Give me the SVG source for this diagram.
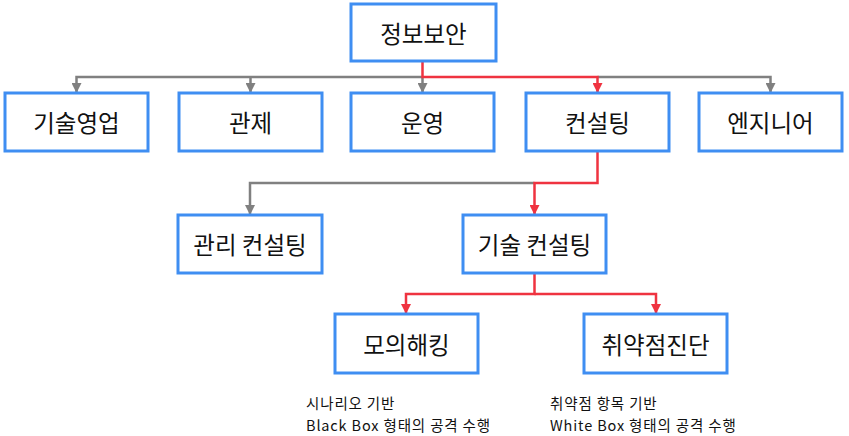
<svg xmlns="http://www.w3.org/2000/svg" width="849" height="436" viewBox="0 0 849 436">
<style>
.box{fill:#fff;stroke:#3f8ef2;stroke-width:3}
.lbl{font-family:"Noto Sans CJK KR","Noto Sans",sans-serif;font-size:23.5px;fill:#111;text-anchor:middle;dominant-baseline:central}
.note{font-family:"Noto Sans CJK KR","Noto Sans",sans-serif;font-size:14.5px;letter-spacing:0.85px;fill:#111}
.g{fill:none;stroke:#808080;stroke-width:2.5}
.r{fill:none;stroke:#ef3340;stroke-width:2.5}
</style>
<defs>
<marker id="ag" viewBox="0 0 10 10" refX="10" refY="5" markerWidth="4" markerHeight="4" orient="auto" markerUnits="strokeWidth"><path d="M0,0 L10,5 L0,10 z" fill="#808080"/></marker>
<marker id="ar" viewBox="0 0 10 10" refX="10" refY="5" markerWidth="4" markerHeight="4" orient="auto" markerUnits="strokeWidth"><path d="M0,0 L10,5 L0,10 z" fill="#ef3340"/></marker>
</defs>
<g id="connectors">
<path class="g" d="M422.5,77 H76.5 V93" marker-end="url(#ag)"/>
<path class="g" d="M250.5,77 V93" marker-end="url(#ag)"/>
<path class="g" d="M422.5,77 V93" marker-end="url(#ag)"/>
<path class="g" d="M597.5,77 H770.5 V93" marker-end="url(#ag)"/>
<path class="r" d="M422.5,62 V77 H597.5 V93" marker-end="url(#ar)"/>
<path class="g" d="M534.5,183 H250 V215" marker-end="url(#ag)"/>
<path class="r" d="M597.5,151 V183 H534.5 V215" marker-end="url(#ar)"/>
<path class="r" d="M534.5,273 V294 H406 V314" marker-end="url(#ar)"/>
<path class="r" d="M534.5,294 H656 V314" marker-end="url(#ar)"/>
</g>
<g id="n-root"><rect class="box" x="351" y="4" width="145" height="57"/><text class="lbl" x="423.5" y="33">정보보안</text></g>
<g id="n-sales"><rect class="box" x="5" y="93" width="143" height="58"/><text class="lbl" x="76.5" y="122">기술영업</text></g>
<g id="n-control"><rect class="box" x="179" y="93" width="143" height="58"/><text class="lbl" x="250.5" y="122">관제</text></g>
<g id="n-ops"><rect class="box" x="351" y="93" width="143" height="58"/><text class="lbl" x="422.5" y="122">운영</text></g>
<g id="n-consult"><rect class="box" x="526" y="93" width="143" height="58"/><text class="lbl" x="597.5" y="122">컨설팅</text></g>
<g id="n-eng"><rect class="box" x="699" y="93" width="143" height="58"/><text class="lbl" x="770.5" y="122">엔지니어</text></g>
<g id="n-mgmt"><rect class="box" x="178" y="215" width="144" height="58"/><text class="lbl" x="250" y="244">관리 컨설팅</text></g>
<g id="n-tech"><rect class="box" x="463" y="215" width="143" height="58"/><text class="lbl" x="534.5" y="244">기술 컨설팅</text></g>
<g id="n-pentest"><rect class="box" x="335" y="314" width="143" height="59"/><text class="lbl" x="406.5" y="343.5">모의해킹</text></g>
<g id="n-vuln"><rect class="box" x="584" y="314" width="143" height="59"/><text class="lbl" x="655.5" y="343.5">취약점진단</text></g>
<g id="notes">
<text class="note" x="306" y="409">시나리오 기반</text>
<text class="note" x="306" y="431">Black Box 형태의 공격 수행</text>
<text class="note" x="550" y="409">취약점 항목 기반</text>
<text class="note" x="550" y="431">White Box 형태의 공격 수행</text>
</g>
</svg>
